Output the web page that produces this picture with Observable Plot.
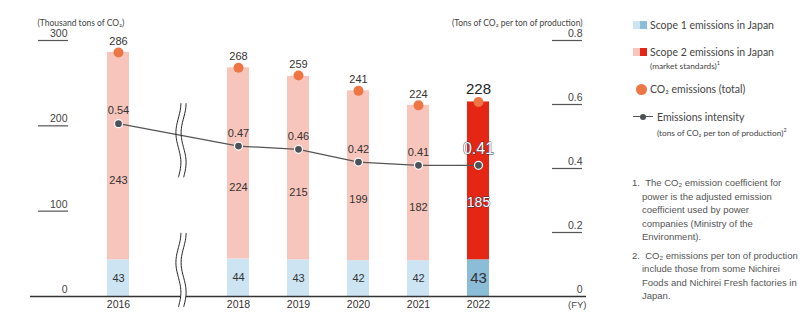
<!DOCTYPE html>
<html><head><meta charset="utf-8">
<script src="https://cdn.jsdelivr.net/npm/d3@7"></script>
<script src="https://cdn.jsdelivr.net/npm/@observablehq/plot@0.6"></script>
<style>
body{margin:0;background:#fff;width:808px;height:328px;overflow:hidden;position:relative;font-family:Lato,"Noto Sans",sans-serif;}
#chart{position:absolute;left:0;top:0;}
.lt{position:absolute;color:#444;font-size:10.5px;white-space:nowrap;line-height:12px;}
.sub{position:absolute;color:#444;font-size:8.3px;white-space:nowrap;line-height:10px;}
.sub sup,.lt sup{font-size:5.5px;vertical-align:4px;}
.sw{position:absolute;width:14px;height:8px;display:flex;}
.sw span{flex:1;}
#notes{position:absolute;left:632px;top:176px;width:176px;font-family:"Liberation Sans",Arial,sans-serif;font-size:9.5px;line-height:13.5px;color:#555;}
#notes div{padding-left:10px;text-indent:-10px;margin-bottom:5px;}
</style></head>
<body>
<div id="chart"></div>
<div class="sw" style="left:633px;top:21px"><span style="background:#cde5f3"></span><span style="background:#8cbdd8"></span></div>
<div class="lt" style="left:650px;top:19px">Scope 1 emissions in Japan</div>
<div class="sw" style="left:633px;top:48px"><span style="background:#f8c5bc"></span><span style="background:#e62614"></span></div>
<div class="lt" style="left:650px;top:46px">Scope 2 emissions in Japan</div>
<div class="sub" style="left:650px;top:58px">(market standards)<sup>1</sup></div>
<div style="position:absolute;left:636px;top:84px;width:11px;height:11px;border-radius:50%;background:#ee7645"></div>
<div class="lt" style="left:650px;top:83px">CO₂ emissions (total)</div>
<div style="position:absolute;left:633px;top:116px;width:20px;height:1.3px;background:#555"></div>
<div style="position:absolute;left:640px;top:113.5px;width:6px;height:6px;border-radius:50%;background:#4b5157"></div>
<div class="lt" style="left:657px;top:111px">Emissions intensity</div>
<div class="sub" style="left:657px;top:125px">(tons of CO₂ per ton of production)<sup>2</sup></div>
<div id="notes">
<div>1.&nbsp;&nbsp;The CO₂ emission coefficient for<br>power is the adjusted emission<br>coefficient used by power<br>companies (Ministry of the<br>Environment).</div>
<div>2.&nbsp;&nbsp;CO₂ emissions per ton of production<br>include those from some Nichirei<br>Foods and Nichirei Fresh factories in<br>Japan.</div>
</div>
<script>
// x slots: "2017" is an empty slot used for the axis break
const years = ["2016","2017","2018","2019","2020","2021","2022"];
const dataYears = ["2016","2018","2019","2020","2021","2022"];
const scope1 = [43,44,43,42,42,43];
const scope2 = [243,224,215,199,182,185];
const totals = [286,268,259,241,224,228];
const intensity = [0.54,0.47,0.46,0.42,0.41,0.41];
const leftTicks = [0,100,200,300];
const rightTicks = [0,0.2,0.4,0.6,0.8];
const breaks = [[139,226],[-13,74]];

const K = 300/0.8;
const rows = dataYears.map((y,i)=>({year:y, s1:scope1[i], s2:scope2[i], total:totals[i], inten:intensity[i], hl:y==="2022"}));
const stack = rows.flatMap(d=>[{year:d.year,type:"s1",value:d.s1,hl:d.hl},{year:d.year,type:"s2",value:d.s2,hl:d.hl}]);
const colors = {s1:["#cde5f3","#8cbdd8"], s2:["#f8c5bc","#e62614"]};
const norm = rows.filter(d=>!d.hl), hi = rows.filter(d=>d.hl);
const numFont = "Liberation Sans, Arial, sans-serif";

const plot = Plot.plot({
  width:600, height:328, marginTop:40, marginBottom:32, marginLeft:30, marginRight:14,
  x:{domain:years, range:[88,508], padding:0, axis:null},
  y:{domain:[0,300], axis:null},
  color:{type:"identity"},
  style:{fontFamily:numFont, fontSize:"11px", color:"#333", background:"transparent", overflow:"visible"},
  marks:[
    Plot.barY(stack,{x:"year", y:"value", fill:d=>colors[d.type][d.hl?1:0], insetLeft:19, insetRight:19}),
    Plot.ruleY([0],{stroke:"#333", strokeWidth:1.3}),
    Plot.ruleY(leftTicks.filter(v=>v>0),{insetLeft:8, insetRight:518, stroke:"#555", strokeWidth:1.2}),
    Plot.text(leftTicks,{y:d=>d, frameAnchor:"left", dx:37, dy:-7, textAnchor:"end", fill:"#444", fontSize:10.5}),
    Plot.ruleY(rightTicks.filter(v=>v>0),{y:d=>d*K, insetLeft:522, insetRight:4, stroke:"#555", strokeWidth:1.2}),
    Plot.text(rightTicks,{y:d=>d*K, text:d=>d===0?"0":d.toFixed(1), frameAnchor:"right", dx:-4, dy:-7, textAnchor:"end", fill:"#444", fontSize:10.5}),
    Plot.text(dataYears,{x:d=>d, text:d=>d, frameAnchor:"bottom", dy:11, fill:"#333", fontSize:10.5}),
    Plot.text(["(FY)"],{frameAnchor:"bottom-right", dy:11, textAnchor:"end", fill:"#444", fontSize:9.5}),
    Plot.text(["(Thousand tons of CO₂)"],{frameAnchor:"top-left", dx:7, dy:-21, textAnchor:"start", fill:"#444", fontSize:8.5, fontFamily:"Lato"}),
    Plot.text(["(Tons of CO₂ per ton of production)"],{frameAnchor:"top-right", dx:-4, dy:-21, textAnchor:"end", fill:"#444", fontSize:8.5, fontFamily:"Lato"}),
    // segment labels
    Plot.text(norm,{x:"year", y:d=>d.s1/2, text:"s1", fill:"#333", fontSize:11}),
    Plot.text(hi,{x:"year", y:d=>d.s1/2, text:"s1", fill:"#333", fontSize:15}),
    Plot.text(norm,{x:"year", y:d=>d.s1+d.s2/2, text:"s2", dy:24, fill:"#333", fontSize:11}),
    Plot.text(hi,{x:"year", y:d=>d.s1+d.s2/2, text:"s2", dy:22, fill:"white", stroke:"#2b3a55", strokeWidth:0.8, paintOrder:"stroke", fontSize:14}),
    // intensity line
    Plot.line(rows,{x:"year", y:d=>d.inten*K, stroke:"#555", strokeWidth:1.2}),
    Plot.dot(rows,{x:"year", y:d=>d.inten*K, r:4, fill:"#4b5157", stroke:"white", strokeWidth:1.2}),
    Plot.text(norm,{x:"year", y:d=>d.inten*K, text:d=>d.inten.toFixed(2), dy:-13, fill:"#333", fontSize:11}),
    Plot.text(hi,{x:"year", y:d=>d.inten*K, text:d=>d.inten.toFixed(2), dy:-16, fill:"white", stroke:"#2b3a55", strokeWidth:0.9, paintOrder:"stroke", fontSize:16}),
    // totals
    Plot.dot(rows,{x:"year", y:"total", r:5, fill:"#ee7645"}),
    Plot.text(norm,{x:"year", y:"total", text:"total", dy:-11, fill:"#333", fontSize:11}),
    Plot.text(hi,{x:"year", y:"total", text:"total", dy:-13, fill:"#222", fontSize:15})
  ]
});
document.getElementById("chart").appendChild(plot);

// axis break marks
const xs = plot.scale("x"), ys = plot.scale("y");
const cx = xs.apply("2017") + xs.bandwidth/2 + 3;
const svg = d3.select(plot);
breaks.forEach(([lo,hi2], k)=>{
  const y0 = ys.apply(hi2), y1 = ys.apply(lo);
  const pts = off => d3.range(0,1.0001,0.02).map(t=>[cx+off+2.5*Math.sin(t*Math.PI*2.5+Math.PI/2), y0+(y1-y0)*t]);
  const line = d3.line().curve(d3.curveBasis);
  if (k===1) svg.append("path").attr("d", line(pts(0))).attr("fill","none").attr("stroke","white").attr("stroke-width",5);
  [-2.6,2.6].forEach(off=>svg.append("path").attr("d", line(pts(off))).attr("fill","none").attr("stroke","#222").attr("stroke-width",1));
});
</script>
</body></html>
